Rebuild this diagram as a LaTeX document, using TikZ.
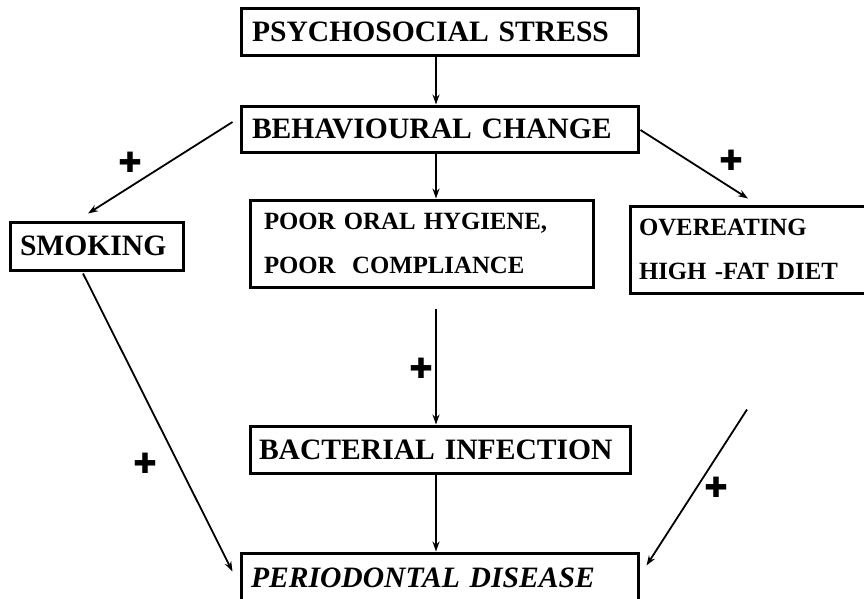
\documentclass[tikz,border=0pt]{standalone}
\usepackage{fontspec}
\setmainfont{Liberation Serif}[WordSpace=0.75]
\newfontfamily\plusfont{DejaVu Sans}
\usetikzlibrary{arrows.meta,calc}
\begin{document}
\begin{tikzpicture}[x=1pt,y=1pt,
  box/.style={draw, line width=3pt, rectangle, inner ysep=0pt, align=left, anchor=center},
  big/.style={font=\bfseries\fontsize{29.6}{35}\selectfont},
  small/.style={font=\bfseries\fontsize{24.8}{44}\selectfont},
  arr/.style={line width=1.8pt, -{Stealth[length=10pt,width=7pt]}},
  plus/.style={font=\plusfont\fontsize{28}{28}\selectfont, inner sep=0pt}]
\useasboundingbox (0,0) rectangle (864,-598);
\node[box,big,minimum width=397,minimum height=47,inner xsep=11,text width=375] (ps) at (439.5,-31.5) {PSYCHOSOCIAL STRESS};
\node[box,big,minimum width=397,minimum height=46,inner xsep=11,text width=375] (bc) at (439.5,-129) {BEHAVIOURAL CHANGE};
\node[box,small,minimum width=343,minimum height=87,inner xsep=14,text width=315] (poh) at (421.5,-243.5) {POOR ORAL HYGIENE,\\POOR~ COMPLIANCE};
\node[box,big,minimum width=173,minimum height=48,inner xsep=10,text width=153] (smk) at (96.5,-246) {SMOKING};
\node[box,small,minimum width=240,minimum height=87,inner xsep=9,text width=222] (ovr) at (750,-249.5) {OVEREATING\\HIGH -FAT DIET};
\node[box,big,minimum width=380,minimum height=47,inner xsep=9,text width=362] (bi) at (440,-449.5) {BACTERIAL INFECTION};
\node[box,big,minimum width=397,minimum height=49,inner xsep=10,text width=377] (pd) at (439.5,-577.5) {\itshape PERIODONTAL DISEASE};
% connector end points
\coordinate (a1) at ($(ps.south)+(-3.5,0)$);
\coordinate (a2) at ($(bc.south)+(-3.5,0)$);
\coordinate (a3) at ($(poh.south)+(14.5,-20)$);
\coordinate (a4) at ($(bi.south)+(-4,0)$);
\coordinate (a5) at ($(ovr.south)+(-3,-115)$);
% connectors
\draw[arr] (a1) -- (a1 |- bc.north);
\draw[arr] (a2) -- (a2 |- poh.north);
\draw[arr] ($(bc.west)+(-7,7)$) -- ($(smk.north)+(-8.5,7)$);
\draw[arr] ($(bc.east)+(1,-1)$) -- ($(ovr.north)+(-2,6)$);
\draw[arr] (a3) -- (a3 |- bi.north);
\draw[arr] (a4) -- (a4 |- pd.north);
\draw[arr] ($(smk.south)+(-13.5,-2)$) -- ($(pd.west)+(-7,6)$);
\draw[arr] (a5) -- ($(pd.east)+(7,12)$);
% plus signs
\node[plus] (p1) at (130,-162) {✚};
\node[plus] (p2) at (731,-160) {✚};
\node[plus] (p3) at (421,-368) {✚};
\node[plus] (p4) at (145,-463) {✚};
\node[plus] (p5) at (716,-487) {✚};
\end{tikzpicture}
\end{document}
